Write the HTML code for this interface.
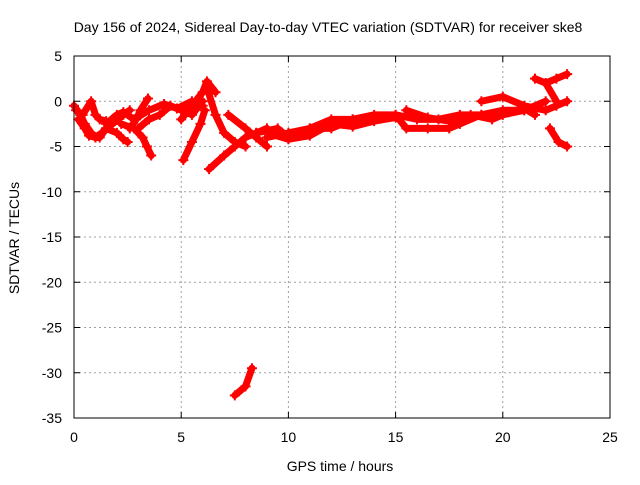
<!DOCTYPE html>
<html><head><meta charset="utf-8"><style>
body{margin:0;background:#fff}
svg text{font-family:"Liberation Sans",sans-serif;font-size:14px;fill:#000}
</style></head><body>
<svg id="chart" width="640" height="480" xmlns="http://www.w3.org/2000/svg">
<text x="328" y="32" text-anchor="middle">Day 156 of 2024, Sidereal Day-to-day VTEC variation (SDTVAR) for receiver ske8</text>
<text x="340" y="471" text-anchor="middle">GPS time / hours</text>
<text x="0" y="0" text-anchor="middle" transform="translate(19,238) rotate(-90)">SDTVAR / TECUs</text>
<g id="grid"></g>
<g id="marks"></g>
<rect x="74" y="56" width="536" height="362" fill="none" stroke="#000" stroke-width="1"/>
<g id="ticks"></g>
</svg>
<script>
const xTicks=[0,5,10,15,20,25];
const yTicks=[5,0,-5,-10,-15,-20,-25,-30,-35];
const trackA=[[0,-0.5],[0.3,-1.5],[0.5,-2.5],[0.8,-3.5],[1,-4],[1.3,-3.5],[1.5,-3],[2,-3.5],[2.3,-4.2],[2.5,-4.5]];
const trackB=[[0.1,-1],[0.4,-1.5],[0.8,0],[1,-1.5],[1.2,-2],[1.5,-2.2],[1.8,-2.5],[2.3,-1.5],[2.6,-1]];
const trackC=[[0.2,-2],[0.5,-3],[0.7,-3.8],[1,-4],[1.2,-4],[1.5,-3]];
const trackD=[[2.2,-2.5],[2.8,-3],[3.2,-4],[3.4,-5],[3.6,-6]];
const trackE=[[2.6,-3],[2.9,-2],[3.1,-1],[3.45,0.3]];
const trackE2=[[1.5,-2.5],[2,-1.5],[2.3,-1.2],[2.8,-2],[3.5,-1],[4.2,-0.3],[4.8,-0.8],[5.5,0],[6,-0.5]];
const trackF=[[3,-3],[3.5,-2],[4,-1.5],[4.5,-0.5],[5,-1],[5.5,-1.5],[6,0]];
const trackG=[[5,-2],[5.5,-0.5],[6,1],[6.2,2.2],[6.6,1]];
const trackH=[[5.1,-6.5],[5.5,-4.5],[5.9,-2.5],[6.1,-1]];
const trackI=[[6.2,1.5],[6.6,-1.5],[7,-3.5],[7.5,-4.5],[8,-5]];
const trackJ=[[6.3,-7.5],[7,-6],[7.5,-5],[8,-4],[8.5,-3.5],[9,-3]];
const trackK=[[7.2,-1.5],[8,-3],[8.5,-4],[9,-5]];
const band1=[[8.5,-3.5],[9.5,-3],[10,-4],[11,-3],[12,-2],[13,-2],[14,-1.5],[15,-1.5],[16,-2],[17,-2],[18,-1.5],[19,-1.5],[20,-1],[21,-1],[22,0]];
const band2=[[9,-4],[10,-3.5],[11,-3],[12,-3],[13,-2],[14,-2],[15,-1.5],[15.5,-3],[16.5,-3],[17.5,-3],[18,-2.5],[19,-1.5],[20,-1.5],[21,-1]];
const band3=[[9,-3.5],[10,-4.2],[11,-3.8],[12,-2.5],[13,-2.8],[14,-2.2],[15,-1.8]];
const band4=[[15.5,-1],[16.5,-1.8],[17.5,-2.2],[18.5,-1.5],[19.5,-2],[20.3,-1.2],[21,-0.8],[21.5,-1.5]];
const trackL=[[19,0],[20,0.5],[21,-0.5],[22,-1],[22.5,-0.5],[23,0]];
const trackM=[[22,2],[22.5,2.5],[23,3]];
const trackN=[[21.5,2.5],[22,2],[22.5,0]];
const trackO=[[22.2,-3],[22.6,-4.5],[23,-5]];
const trackP=[[7.5,-32.5],[8,-31.5],[8.3,-29.5]];
const series=[trackA,trackB,trackC,trackD,trackE,trackE2,trackF,trackG,trackH,trackI,trackJ,trackK,band1,band2,band3,band4,trackL,trackM,trackN,trackO,trackP];
const NS="http://www.w3.org/2000/svg";
function xs(t){return 74+t*536/25;}
function ys(v){return 56+(5-v)*362/40;}
const grid=document.getElementById('grid'),ticks=document.getElementById('ticks'),marks=document.getElementById('marks'),svg=document.getElementById('chart');
function mk(tag,attrs,parent){const e=document.createElementNS(NS,tag);for(const k in attrs)e.setAttribute(k,attrs[k]);parent.appendChild(e);return e;}
xTicks.forEach(t=>{const x=xs(t);
 if(t>0&&t<25){const g=mk('line',{x1:x,x2:x,y1:56,y2:418,stroke:'#a0a0a0','stroke-dasharray':'2,3'},grid);}
 const a=mk('line',{x1:x,x2:x,y1:418,y2:412,stroke:'#000'},ticks);
 mk('line',{x1:x,x2:x,y1:56,y2:62,stroke:'#000'},ticks);
 const l=mk('text',{x:x,y:442,'text-anchor':'middle'},svg);l.textContent=t;});
yTicks.forEach(v=>{const y=ys(v);
 if(v<5&&v>-35){const g=mk('line',{x1:74,x2:610,y1:y,y2:y,stroke:'#a0a0a0','stroke-dasharray':'2,3'},grid);}
 const a=mk('line',{x1:74,x2:80,y1:y,y2:y,stroke:'#000'},ticks);
 mk('line',{x1:604,x2:610,y1:y,y2:y,stroke:'#000'},ticks);
 const l=mk('text',{x:62,y:y+5,'text-anchor':'end'},svg);l.textContent=v;});
series.forEach(s=>{
 const p=mk('polyline',{points:s.map(d=>xs(d[0])+','+ys(d[1])).join(' '),fill:'none',stroke:'#ff0000','stroke-width':7,'stroke-linecap':'round','stroke-linejoin':'round'},marks);
 
 
 s.forEach(d=>{const x=xs(d[0]),y=ys(d[1]);
  const c=mk('path',{d:`M${x-5},${y}H${x+5}M${x},${y-5}V${y+5}`,stroke:'#ff0000','stroke-width':2},marks);
  
  });
});
</script>
</body></html>
